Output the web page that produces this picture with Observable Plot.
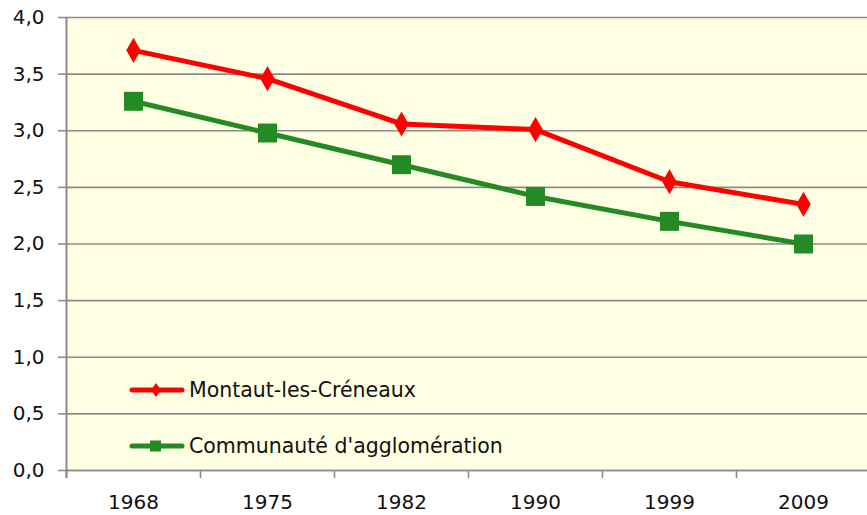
<!DOCTYPE html>
<html>
<head>
<meta charset="utf-8">
<script src="https://cdn.jsdelivr.net/npm/d3@7"></script>
<script src="https://cdn.jsdelivr.net/npm/@observablehq/plot@0.6"></script>
<style>
  html, body { margin: 0; padding: 0; background: #fff; }
  #wrap { position: relative; width: 867px; height: 515px; font-family: "DejaVu Sans", sans-serif; }
  .leg { position: absolute; left: 128px; display: flex; align-items: center; font-size: 20.5px; color: #111; }
  .leg svg { margin-right: 3px; }
</style>
</head>
<body>
<div id="wrap"></div>
<script>
const years = ["1968", "1975", "1982", "1990", "1999", "2009"];
const montaut = [3.71, 3.46, 3.06, 3.01, 2.55, 2.35];
const agglo = [3.26, 2.98, 2.70, 2.42, 2.20, 2.00];
const seriesNames = ["Montaut-les-Créneaux", "Communauté d'agglomération"];
const yTicks = [0, 0.5, 1, 1.5, 2, 2.5, 3, 3.5, 4];

const red = "#ff0000";
const green = "#248a24";
const gray = "#8c8c8c";

const dataM = years.map((y, i) => ({year: y, value: montaut[i]}));
const dataA = years.map((y, i) => ({year: y, value: agglo[i]}));

const fmt = d => d.toFixed(1).replace(".", ",");

const chart = Plot.plot({
  width: 867,
  height: 515,
  marginLeft: 66,
  marginRight: 0,
  marginTop: 17,
  marginBottom: 45,
  style: {fontFamily: "DejaVu Sans, sans-serif", fontSize: "20px", color: "#111", background: "transparent", overflow: "visible"},
  x: {type: "band", domain: years, range: [66, 870], padding: 0, label: null},
  y: {domain: [0, 4], label: null},
  marks: [
    Plot.frame({fill: "#ffffe3", stroke: null}),
    Plot.gridY(yTicks, {stroke: gray, strokeOpacity: 1, strokeWidth: 1.6}),
    Plot.ruleY([0], {stroke: gray, strokeWidth: 1.6}),
    Plot.ruleX([years[0]], {stroke: gray, strokeWidth: 2, dx: -67, insetBottom: -8}),
    Plot.axisY(yTicks, {tickSize: 8, tickPadding: 14, tickFormat: fmt, stroke: gray, strokeWidth: 1.6, fontSize: 20, fill: "#111", label: null}),
    Plot.axisX({tickSize: 8, text: null, dx: -67, stroke: gray, strokeWidth: 1.6, label: null}),
    Plot.axisX({tickSize: 0, tickPadding: 24, fontSize: 20, fill: "#111", label: null}),
    Plot.line(dataA, {x: "year", y: "value", stroke: green, strokeWidth: 5}),
    Plot.dot(dataA, {x: "year", y: "value", symbol: "square", r: 10.7, fill: green, stroke: null}),
    Plot.line(dataM, {x: "year", y: "value", stroke: red, strokeWidth: 5}),
    Plot.dot(dataM, {x: "year", y: "value", symbol: "diamond", r: 7.6, fill: red, stroke: null})
  ]
});

const wrap = document.getElementById("wrap");
wrap.appendChild(chart);

function legendItem(name, color, symbol, top) {
  const div = document.createElement("div");
  div.className = "leg";
  div.style.top = top + "px";
  const sym = symbol === "diamond"
    ? `<path d="M28,4 L33,11 L28,18 L23,11 Z" fill="${color}"/>`
    : `<rect x="22" y="5.5" width="11" height="11" fill="${color}"/>`;
  div.innerHTML = `<svg width="58" height="22"><line x1="4" y1="11" x2="54" y2="11" stroke="${color}" stroke-width="5" stroke-linecap="round"/>${sym}</svg><span>${name}</span>`;
  wrap.appendChild(div);
}
legendItem(seriesNames[0], red, "diamond", 378);
legendItem(seriesNames[1], green, "square", 434);
</script>
</body>
</html>
